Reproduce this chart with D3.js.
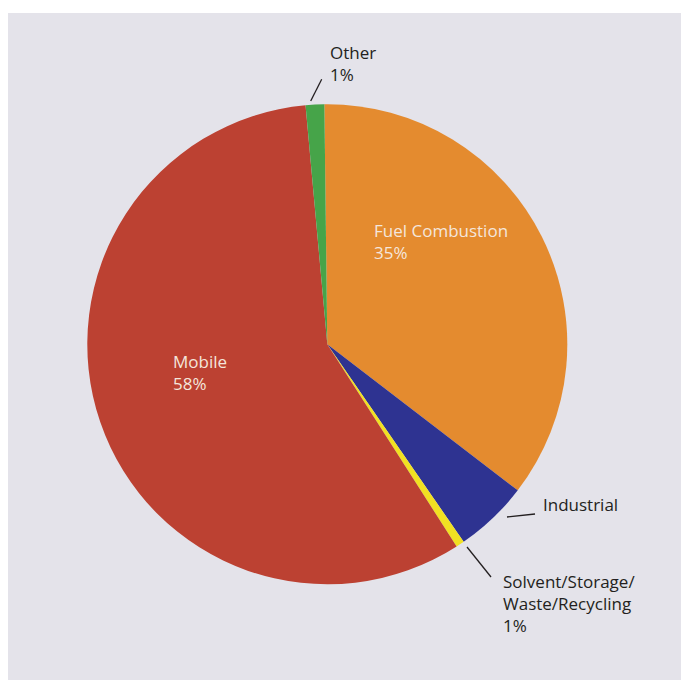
<!DOCTYPE html>
<html>
<head>
<meta charset="utf-8">
<script src="https://cdn.jsdelivr.net/npm/d3@7"></script>
<style>
  html, body { margin: 0; padding: 0; background: #ffffff; }
  svg { display: block; }
</style>
</head>
<body>
<svg id="chart" width="681" height="680"></svg>
<script>
// Data
const categories = ["Fuel Combustion", "Industrial", "Solvent/Storage/Waste/Recycling", "Mobile", "Other"];
const shares = [35.6, 4.97, 0.56, 57.6, 1.25];
const labelPercents = ["35%", "", "1%", "58%", "1%"];
const colors = ["#e48b2f", "#2e3391", "#f1e122", "#bc4132", "#46a449"];

const svg = d3.select("#chart");
const W = 681, H = 680;

// panel
svg.append("rect").attr("x", 8).attr("y", 13).attr("width", W - 8).attr("height", H - 13)
  .attr("fill", "#e4e3ea");

const cx = 327.3, cy = 344.3, R = 240;
const startOffset = -0.7 * Math.PI / 180;

const pie = d3.pie().sort(null).value(d => d.v)
  .startAngle(startOffset).endAngle(startOffset + 2 * Math.PI);
const data = categories.map((c, i) => ({ name: c, v: shares[i], color: colors[i], pct: labelPercents[i] }));
const arcs = pie(data);
const arc = d3.arc().innerRadius(0).outerRadius(R);

const g = svg.append("g").attr("transform", `translate(${cx},${cy})`);
g.selectAll("path").data(arcs).join("path")
  .attr("d", arc)
  .attr("fill", d => d.data.color);

const font = "'Open Sans', 'Noto Sans', sans-serif";
const fs = 17;

function textBlock(lines, x, y, fill) {
  const t = svg.append("text").attr("x", x).attr("y", y)
    .attr("font-family", font).attr("font-size", fs).attr("fill", fill);
  lines.forEach((l, i) => t.append("tspan").attr("x", x).attr("dy", i === 0 ? 0 : 22).text(l));
}
// Inside labels (light text)
textBlock([categories[0], labelPercents[0]], 374, 237, "#f4e6dc");
textBlock([categories[3], labelPercents[3]], 173, 368, "#f4e6dc");

// Outside labels with leader lines
function leader(p1, p2) {
  svg.append("line")
    .attr("x1", p1[0]).attr("y1", p1[1]).attr("x2", p2[0]).attr("y2", p2[1])
    .attr("stroke", "#231f20").attr("stroke-width", 1.3);
}
textBlock(["Other", labelPercents[4]], 330, 59, "#231f20");
leader([310.7, 101], [321.7, 79.3]);
textBlock(["Industrial"], 543, 511, "#231f20");
leader([507, 517], [535, 514]);
textBlock(["Solvent/Storage/", "Waste/Recycling", labelPercents[2]], 503, 588, "#231f20");
leader([467, 547], [491, 577]);
</script>
</body>
</html>
